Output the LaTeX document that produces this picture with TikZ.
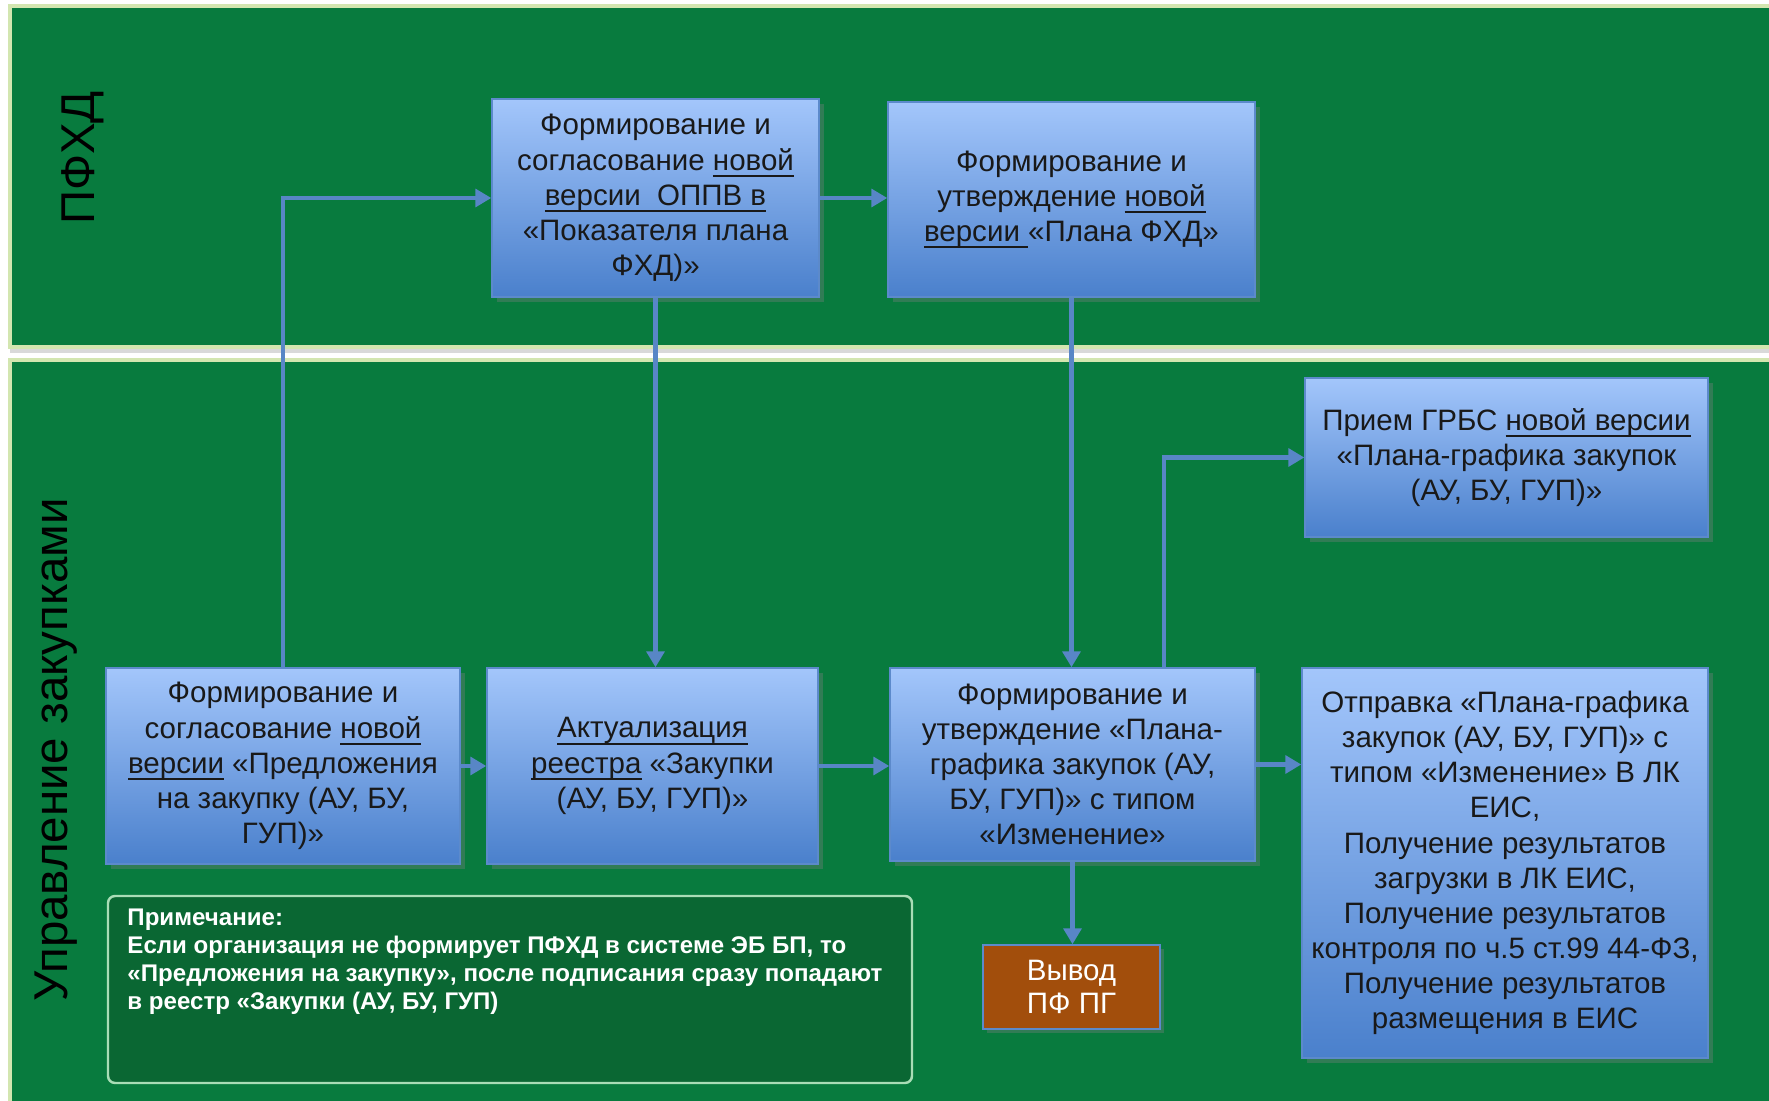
\documentclass[tikz,border=0pt]{standalone}
\usepackage{fontspec}
\setmainfont{Liberation Sans}
\usetikzlibrary{arrows.meta,shadows,calc}

\definecolor{lanegreen}{HTML}{087B3E}
\definecolor{laneedge}{HTML}{D3E6B0}
\definecolor{notegreen}{HTML}{0A6733}
\definecolor{noteedge}{HTML}{A9DDB6}
\definecolor{boxtop}{HTML}{A3C6FB}
\definecolor{boxbot}{HTML}{4A80CC}
\definecolor{boxedge}{HTML}{5C8ACB}
\definecolor{flowblue}{HTML}{5886C6}
\definecolor{outbrown}{HTML}{A24E0C}

\newcommand{\undl}[1]{\setbox0\hbox{#1}\rlap{\rule[-1.9pt]{\wd0}{0.5pt}}\box0\relax}

\tikzset{
  lane/.style={fill=lanegreen,draw=laneedge,line width=1pt},
  lanelabel/.style={rotate=90,font=\fontsize{13.5}{15}\selectfont},
  stepbox/.style={draw=boxedge,line width=0.4pt,top color=boxtop,bottom color=boxbot,
    align=center,font=\fontsize{8.4}{10}\selectfont,text=black!90,inner sep=1pt,
    drop shadow={opacity=0.35,shadow xshift=0.05cm,shadow yshift=-0.05cm}},
  outbox/.style={draw=boxedge,line width=0.4pt,fill=outbrown,text=white,
    align=center,font=\fontsize{8.4}{9.4}\selectfont,
    drop shadow={opacity=0.35,shadow xshift=0.04cm,shadow yshift=-0.04cm}},
  notebox/.style={draw=noteedge,line width=0.7pt,fill=notegreen,rounded corners=2pt},
  notetext/.style={text=white,align=left,font=\bfseries\fontsize{6.85}{8}\selectfont,inner sep=0pt},
  flow/.style={draw=flowblue,line width=1.3pt,-{Triangle[width=5pt,length=4.5pt]}}
}

\begin{document}
\begin{tikzpicture}
  \useasboundingbox (0,0) rectangle (17.69,-11.01);
  % lanes
  \path[lane,drop shadow={opacity=0.3,shadow xshift=0cm,shadow yshift=-0.06cm}]
    (0.1,-0.06) rectangle (17.75,-3.47);
  \path[lane] (0.1,-3.60) rectangle (17.75,-11.1);
  \node[lanelabel] (pfhdlabel) at (0.83,-1.58) {ПФХД};
  \node[lanelabel] (zaklabel) at (0.56,-7.5) {Управление закупками};

  % upper lane
  \node[stepbox,minimum width=3.27cm,minimum height=1.98cm] (opv) at (6.555,-1.98)
    {Формирование и\\ согласование \undl{новой}\\ \undl{версии\ \ ОППВ в}\\
     «Показателя плана\\ ФХД)»};
  \node[stepbox,minimum width=3.67cm,minimum height=1.95cm] (pfhd) at (10.715,-1.995)
    {Формирование и\\ утверждение \undl{новой}\\ \undl{версии }«Плана ФХД»};

  % lower lane
  \node[stepbox,minimum width=4.03cm,minimum height=1.59cm] (grbs) at (15.065,-4.575)
    {Прием ГРБС \undl{новой версии}\\ «Плана-графика закупок\\ (АУ, БУ, ГУП)»};
  \node[stepbox,minimum width=3.54cm,minimum height=1.96cm] (pred) at (2.83,-7.66)
    {Формирование и\\ согласование \undl{новой}\\ \undl{версии} «Предложения\\
     на закупку (АУ, БУ,\\ ГУП)»};
  \node[stepbox,minimum width=3.31cm,minimum height=1.96cm] (akt) at (6.525,-7.66)
    {\undl{Актуализация}\\ \undl{реестра} «Закупки\\ (АУ, БУ, ГУП)»};
  \node[stepbox,minimum width=3.65cm,minimum height=1.93cm] (pg) at (10.725,-7.645)
    {Формирование и\\ утверждение «Плана-\\графика закупок (АУ,\\ БУ, ГУП)» с типом\\
     «Изменение»};
  \node[stepbox,minimum width=4.06cm,minimum height=3.9cm] (otpr) at (15.05,-8.63)
    {Отправка «Плана-графика\\ закупок (АУ, БУ, ГУП)» с\\ типом «Изменение» В ЛК\\ ЕИС,\\
     Получение результатов\\ загрузки в ЛК ЕИС,\\ Получение результатов\\
     контроля по ч.5 ст.99 44-ФЗ,\\ Получение результатов\\ размещения в ЕИС};
  \node[outbox,minimum width=1.77cm,minimum height=0.84cm] (vyvod) at (10.715,-9.87)
    {Вывод\\ ПФ ПГ};

  % note
  \node[notebox,minimum width=8.04cm,minimum height=1.87cm] (note) at (5.1,-9.895) {};
  \node[notetext,anchor=north west] (notetxt) at ([xshift=0.2cm,yshift=-0.13cm]note.north west)
    {Примечание:\\ Если организация не формирует ПФХД в системе ЭБ БП, то\\
     «Предложения на закупку», после подписания сразу попадают\\
     в реестр «Закупки (АУ, БУ, ГУП)};

  % connectors
  \draw[flow] (pred.north) |- (opv.west);
  \draw[flow] (opv.east) -- (opv.east -| pfhd.west);
  \draw[flow] (opv.south) -- (opv.south |- akt.north);
  \draw[flow] (pfhd.south) -- (pfhd.south |- pg.north);
  \draw[flow] ($(pg.north west)!0.75!(pg.north east)$) |- (grbs.west);
  \draw[flow] (pred.east) -- (akt.west);
  \draw[flow] (akt.east) -- (akt.east -| pg.west);
  \draw[flow] (pg.east) -- (pg.east -| otpr.west);
  \draw[flow] (pg.south) -- (pg.south |- vyvod.north);
\end{tikzpicture}
\end{document}
